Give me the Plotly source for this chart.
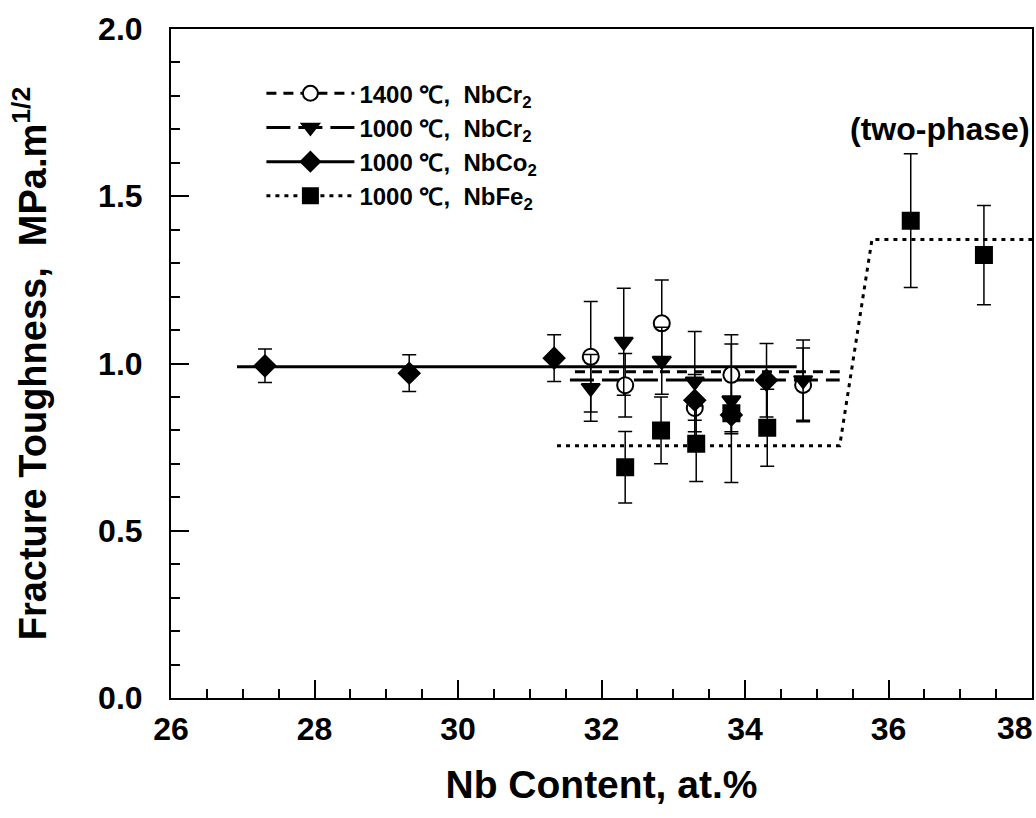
import plotly.graph_objects as go

# -------------------------
# Data
# -------------------------
cr1400_x = [31.85, 32.33, 32.84, 33.30, 33.81, 34.81]
cr1400_y = [1.02, 0.935, 1.12, 0.867, 0.966, 0.936]
cr1400_err = [0.165, 0.095, 0.13, 0.10, 0.12, 0.11]

cr1000_x = [31.85, 32.31, 32.84, 33.30, 33.81, 34.81]
cr1000_y = [0.927, 1.065, 1.008, 0.946, 0.89, 0.95]
cr1000_err = [0.10, 0.16, 0.10, 0.15, 0.10, 0.12]

co1000_x = [27.31, 29.32, 31.34, 33.30, 33.81, 34.30]
co1000_y = [0.993, 0.971, 1.016, 0.89, 0.846, 0.95]
co1000_err = [0.05, 0.055, 0.07, 0.06, 0.05, 0.11]

fe1000_x = [32.33, 32.83, 33.32, 33.81, 34.31, 36.31, 37.33]
fe1000_y = [0.69, 0.80, 0.76, 0.851, 0.808, 1.427, 1.324]
fe1000_err = [0.107, 0.10, 0.113, 0.207, 0.115, 0.20, 0.148]

# guide lines drawn through the data
cr1400_fit_x = [31.63, 35.32]
cr1400_fit_y = [0.975, 0.975]
cr1000_fit_x = [31.56, 35.32]
cr1000_fit_y = [0.951, 0.951]
co1000_fit_x = [26.92, 34.72]
co1000_fit_y = [0.99, 0.99]
fe1000_fit_x = [31.38, 35.32, 35.77, 38.0]
fe1000_fit_y = [0.754, 0.754, 1.371, 1.371]

x_ticks = [26, 28, 30, 32, 34, 36, 38]
x_labels = ["26", "28", "30", "32", "34", "36", ""]   # 38 drawn right-aligned below
y_ticks = [0.0, 0.5, 1.0, 1.5, 2.0]

FONT = "Liberation Sans, Arial, sans-serif"
BLACK = "black"

series = [
    ("1400 \u2103,  NbCr<sub>2</sub>", cr1400_x, cr1400_y, cr1400_err,
     cr1400_fit_x, cr1400_fit_y, "10px,7px", "circle", "white"),
    ("1000 \u2103,  NbCr<sub>2</sub>", cr1000_x, cr1000_y, cr1000_err,
     cr1000_fit_x, cr1000_fit_y, "24px,8px", "triangle-down", BLACK),
    ("1000 \u2103,  NbCo<sub>2</sub>", co1000_x, co1000_y, co1000_err,
     co1000_fit_x, co1000_fit_y, "solid", "diamond", BLACK),
    ("1000 \u2103,  NbFe<sub>2</sub>", fe1000_x, fe1000_y, fe1000_err,
     fe1000_fit_x, fe1000_fit_y, "4px,5px", "square", BLACK),
]

fig = go.Figure()

# guide lines first so markers sit on top
for name, x, y, err, fx, fy, dash, sym, fill in series:
    fig.add_trace(go.Scatter(
        x=fx, y=fy, mode="lines",
        line=dict(color=BLACK, width=3, dash=dash),
        showlegend=False, hoverinfo="skip"
    ))

for name, x, y, err, fx, fy, dash, sym, fill in series:
    fig.add_trace(go.Scatter(
        x=x, y=y, mode="markers",
        marker=dict(symbol=sym, size=16, color=fill,
                    line=dict(color=BLACK, width=2)),
        error_y=dict(type="data", array=err, visible=True,
                     color=BLACK, thickness=1.5, width=7),
        showlegend=False
    ))

# legend entries (line + marker sample)
for name, x, y, err, fx, fy, dash, sym, fill in series:
    fig.add_trace(go.Scatter(
        x=[None], y=[None], mode="lines+markers", name=name,
        line=dict(color=BLACK, width=3, dash=dash),
        marker=dict(symbol=sym, size=15, color=fill,
                    line=dict(color=BLACK, width=2))
    ))

fig.add_annotation(
    x=38, y=1.70, xanchor="right", text="(two-phase)", showarrow=False,
    font=dict(family=FONT, size=32, color=BLACK, weight="bold")
)

fig.add_annotation(
    x=38, y=0, xanchor="right", yanchor="top", yshift=-10, xshift=3,
    text="38", showarrow=False,
    font=dict(family=FONT, size=32, color=BLACK, weight="bold")
)

axis_common = dict(
    showline=True, linecolor=BLACK, linewidth=2, mirror=True,
    ticks="inside", ticklen=18, tickwidth=2, tickcolor=BLACK,
    showgrid=False, zeroline=False, automargin=False,
    tickfont=dict(family=FONT, size=32, color=BLACK, weight="bold"),
)

fig.update_xaxes(
    range=[26, 38], tickvals=x_ticks, ticktext=x_labels,
    ticklabelstandoff=2,
    minor=dict(dtick=0.5, ticks="inside", ticklen=9, tickwidth=1.5,
               tickcolor=BLACK, showgrid=False),
    title=dict(text="Nb Content, at.%", standoff=24,
               font=dict(family=FONT, size=39, color=BLACK, weight="bold")),
    **axis_common
)

fig.update_yaxes(
    range=[0, 2], tickvals=y_ticks, tickformat=".1f",
    ticklabelstandoff=20,
    minor=dict(dtick=0.1, ticks="inside", ticklen=9, tickwidth=1.5,
               tickcolor=BLACK, showgrid=False),
    title=dict(text="Fracture Toughness,  MPa.m<sup>1/2</sup>", standoff=40,
               font=dict(family=FONT, size=38, color=BLACK, weight="bold")),
    **axis_common
)

fig.update_layout(
    width=1036, height=818,
    margin=dict(l=171, r=4, t=29, b=120),
    paper_bgcolor="white", plot_bgcolor="white",
    font=dict(family=FONT, color=BLACK),
    legend=dict(
        x=0.105, y=0.937, xanchor="left", yanchor="top",
        bgcolor="rgba(0,0,0,0)", borderwidth=0,
        font=dict(family=FONT, size=24, color=BLACK, weight="bold"),
        itemwidth=88, tracegroupgap=0
    ),
)

# drop the default page margin so the figure fills the window exactly
fig.write_html(
    "out.html",
    config={"displayModeBar": False},
    post_script="document.body.style.margin='0';document.body.style.overflow='hidden';"
)
